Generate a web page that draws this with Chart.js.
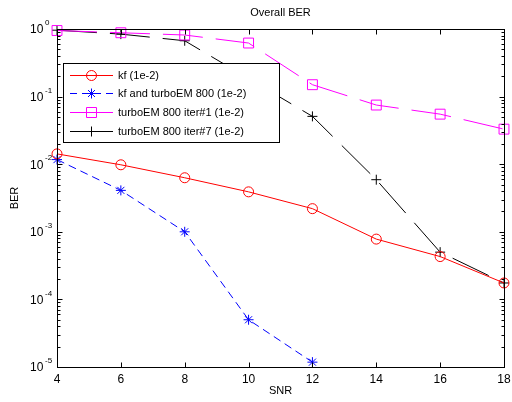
<!DOCTYPE html>
<html>
<head>
<meta charset="utf-8">
<script src="https://cdn.jsdelivr.net/npm/chart.js@4/dist/chart.umd.min.js"></script>
<style>
  html, body { margin: 0; padding: 0; background: #fff; }
  #wrap { width: 512px; height: 402px; }
</style>
</head>
<body>
<div id="wrap"><canvas id="berChart" width="512" height="402"></canvas></div>
<script>
// SNR values (x axis)
const snr = [4, 6, 8, 10, 12, 14, 16, 18];
const snrShort = [4, 6, 8, 10, 12];

// BER series
const berKf = [0.0142, 0.0098, 0.0063, 0.0039, 0.0022, 0.00078, 0.00043, 0.000175];
const berKfTurbo = [0.0117, 0.0041, 0.001, 0.00005, 0.0000118];
const berIter1 = [0.95, 0.88, 0.815, 0.62, 0.15, 0.075, 0.055, 0.033];
const berIter7 = [0.96, 0.84, 0.67, 0.185, 0.051, 0.0059, 0.0005, 0.000175];

const xTicks = [4, 6, 8, 10, 12, 14, 16, 18];
const yExponents = [-5, -4, -3, -2, -1, 0];

const FONT = '"Liberation Sans", Arial, sans-serif';

function toPoints(xs, ys) {
    return ys.map((v, i) => ({ x: xs[i], y: v }));
}

// draw a marker like the ones used in the plot
function drawMarker(ctx, style, color, x, y) {
    ctx.save();
    ctx.strokeStyle = color;
    ctx.lineWidth = 1;
    ctx.setLineDash([]);
    ctx.beginPath();
    if (style === 'circle') {
        ctx.arc(x, y, 5, 0, Math.PI * 2);
    } else if (style === 'rect') {
        ctx.rect(x - 5, y - 5, 10, 10);
    } else if (style === 'cross') {
        ctx.moveTo(x - 5, y); ctx.lineTo(x + 5, y);
        ctx.moveTo(x, y - 5); ctx.lineTo(x, y + 5);
    } else if (style === 'star') {
        ctx.moveTo(x - 5, y); ctx.lineTo(x + 5, y);
        ctx.moveTo(x, y - 5); ctx.lineTo(x, y + 5);
        ctx.moveTo(x - 3.5, y - 3.5); ctx.lineTo(x + 3.5, y + 3.5);
        ctx.moveTo(x - 3.5, y + 3.5); ctx.lineTo(x + 3.5, y - 3.5);
    }
    ctx.stroke();
    ctx.restore();
}

// axes box, inward ticks, labels and the boxed legend (MATLAB look)
const matlabFrame = {
    id: 'matlabFrame',
    afterDatasetsDraw(chart) {
        const ctx = chart.ctx;
        const a = chart.chartArea;
        const xs = chart.scales.x;
        const ys = chart.scales.y;
        const L = Math.round(a.left) + 0.5, R = Math.round(a.right) + 0.5;
        const T = Math.round(a.top) + 0.5, B = Math.round(a.bottom) + 0.5;

        ctx.save();
        ctx.strokeStyle = '#000';
        ctx.lineWidth = 1;
        ctx.setLineDash([]);
        ctx.strokeRect(L, T, R - L, B - T);

        ctx.beginPath();
        xTicks.forEach(v => {
            const px = Math.round(xs.getPixelForValue(v)) + 0.5;
            ctx.moveTo(px, B); ctx.lineTo(px, B - 5);
            ctx.moveTo(px, T); ctx.lineTo(px, T + 5);
        });
        yExponents.forEach(e => {
            const py = Math.round(ys.getPixelForValue(Math.pow(10, e))) + 0.5;
            ctx.moveTo(L, py); ctx.lineTo(L + 5, py);
            ctx.moveTo(R, py); ctx.lineTo(R - 5, py);
            if (e < 0) {
                for (let m = 2; m <= 9; m++) {
                    const my = Math.round(ys.getPixelForValue(m * Math.pow(10, e))) + 0.5;
                    ctx.moveTo(L, my); ctx.lineTo(L + 3, my);
                    ctx.moveTo(R, my); ctx.lineTo(R - 3, my);
                }
            }
        });
        ctx.stroke();

        ctx.fillStyle = '#000';
        ctx.font = '12px ' + FONT;
        ctx.textAlign = 'center';
        ctx.textBaseline = 'middle';
        xTicks.forEach(v => {
            ctx.fillText(String(v), xs.getPixelForValue(v), B + 12);
        });

        yExponents.forEach(e => {
            const py = ys.getPixelForValue(Math.pow(10, e));
            ctx.font = '12px ' + FONT;
            ctx.textAlign = 'left';
            ctx.fillText('10', 30, py + 1);
            ctx.font = '8px ' + FONT;
            ctx.fillText(String(e), 45, py - 6);
        });

        ctx.font = '11px ' + FONT;
        ctx.textAlign = 'center';
        ctx.fillText('Overall BER', (a.left + a.right) / 2, 13);
        ctx.fillText('SNR', (a.left + a.right) / 2, 391);
        ctx.save();
        ctx.translate(15, (a.top + a.bottom) / 2);
        ctx.rotate(-Math.PI / 2);
        ctx.fillText('BER', 0, 0);
        ctx.restore();

        // legend
        ctx.fillStyle = '#fff';
        ctx.fillRect(63.5, 63.5, 216, 79);
        ctx.strokeStyle = '#000';
        ctx.strokeRect(63.5, 63.5, 216, 79);
        const rowY = [75, 93, 112, 131];
        chart.data.datasets.forEach((ds, i) => {
            const y = rowY[i] + 0.5;
            ctx.save();
            ctx.strokeStyle = ds.borderColor;
            ctx.lineWidth = 1;
            ctx.setLineDash(ds.legendDash || []);
            ctx.beginPath();
            ctx.moveTo(70, y); ctx.lineTo(113, y);
            ctx.stroke();
            ctx.restore();
            drawMarker(ctx, ds.pointStyle, ds.borderColor, 91.5, y);
            ctx.fillStyle = '#000';
            ctx.font = '11px ' + FONT;
            ctx.textAlign = 'left';
            ctx.fillText(ds.label, 118, rowY[i] + 1);
        });
        ctx.restore();
    }
};

new Chart(document.getElementById('berChart'), {
    type: 'line',
    data: {
        datasets: [
            {
                label: 'kf (1e-2)',
                data: toPoints(snr, berKf),
                borderColor: '#ff0000',
                pointStyle: 'circle',
                pointRadius: 5
            },
            {
                label: 'kf and turboEM 800 (1e-2)',
                data: toPoints(snrShort, berKfTurbo),
                borderColor: '#0000ff',
                borderDash: [8, 5],
                legendDash: [7, 5],
                pointStyle: 'star',
                pointRadius: 5
            },
            {
                label: 'turboEM 800 iter#1 (1e-2)',
                data: toPoints(snr, berIter1),
                borderColor: '#ff00ff',
                borderDash: [40, 13],
                pointStyle: 'rect',
                pointRadius: 7
            },
            {
                label: 'turboEM 800 iter#7 (1e-2)',
                data: toPoints(snr, berIter7),
                borderColor: '#000000',
                borderDash: [40, 13],
                pointStyle: 'cross',
                pointRadius: 5
            }
        ].map(ds => Object.assign({
            borderWidth: 1,
            pointBorderWidth: 1,
            pointBackgroundColor: 'rgba(0,0,0,0)',
            pointBorderColor: ds.borderColor,
            tension: 0,
            fill: false,
            clip: false
        }, ds))
    },
    options: {
        responsive: false,
        animation: false,
        events: [],
        layout: { padding: { left: 57, right: 7, top: 29, bottom: 35 } },
        plugins: {
            legend: { display: false },
            tooltip: { enabled: false },
            title: { display: false }
        },
        scales: {
            x: { type: 'linear', min: 4, max: 18, display: false },
            y: { type: 'logarithmic', min: 1e-5, max: 1, display: false }
        }
    },
    plugins: [matlabFrame]
});
</script>
</body>
</html>
